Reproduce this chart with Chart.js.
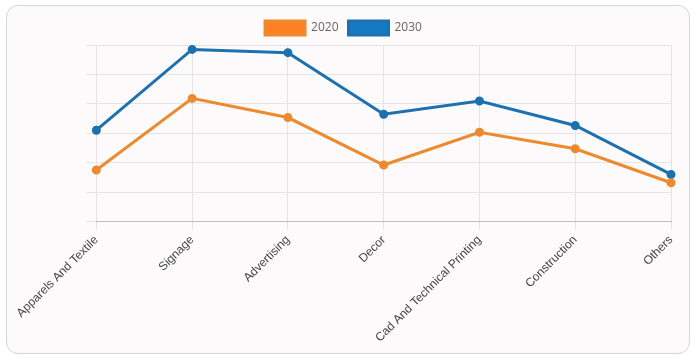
<!DOCTYPE html>
<html>
<head>
<meta charset="utf-8">
<script src="https://cdn.jsdelivr.net/npm/chart.js@4"></script>
<style>
  body { margin: 0; background: #fff; font-family: 'Liberation Sans', Arial, sans-serif; }
  .card {
    position: absolute; left: 6px; top: 5px; width: 682px; height: 347px;
    border: 1px solid #d6d6d6; border-radius: 12px; background: #fcfafb;
  }
  .chart-wrap { position: absolute; left: 9px; top: 0; width: 673px; height: 347px; }
</style>
</head>
<body>
<div class="card">
  <div class="chart-wrap"><canvas id="chart"></canvas></div>
</div>
<script>
const categories = ['Apparels And Textile', 'Signage', 'Advertising', 'Decor', 'Cad And Technical Printing', 'Construction', 'Others'];
const values2020 = [1.76, 4.19, 3.54, 1.93, 3.04, 2.48, 1.33];
const values2030 = [3.11, 5.85, 5.74, 3.65, 4.10, 3.27, 1.61];

const ctx = document.getElementById('chart');
new Chart(ctx, {
  type: 'line',
  data: {
    labels: categories,
    datasets: [{
      label: '2020',
      data: values2020,
      borderColor: '#ee8a2e',
      backgroundColor: '#fb8122',
      pointBackgroundColor: '#ee8a2e',
      borderWidth: 3,
      pointRadius: 3,
      tension: 0
    }, {
      label: '2030',
      data: values2030,
      borderColor: '#1c71ae',
      backgroundColor: '#157ac6',
      pointBackgroundColor: '#1c71ae',
      borderWidth: 3,
      pointRadius: 3,
      tension: 0
    }]
  },
  options: {
    responsive: true,
    maintainAspectRatio: false,
    animation: false,
    layout: { padding: { left: 0, right: 18, top: 5, bottom: 5 } },
    plugins: {
      legend: {
        labels: { boxWidth: 40, boxHeight: 14, color: '#666', font: { size: 12, family: "'Open Sans', sans-serif" } }
      },
      tooltip: { enabled: false }
    },
    scales: {
      x: {
        grid: { color: '#e4e4e4' },
        border: { color: '#bdbdbd' },
        ticks: { maxRotation: 45, minRotation: 45, color: '#444', font: { size: 12 } }
      },
      y: {
        min: 0,
        max: 6,
        grid: { color: '#e4e4e4', tickLength: 10 },
        border: { display: false },
        ticks: { display: false, stepSize: 1 }
      }
    }
  }
});
</script>
</body>
</html>
